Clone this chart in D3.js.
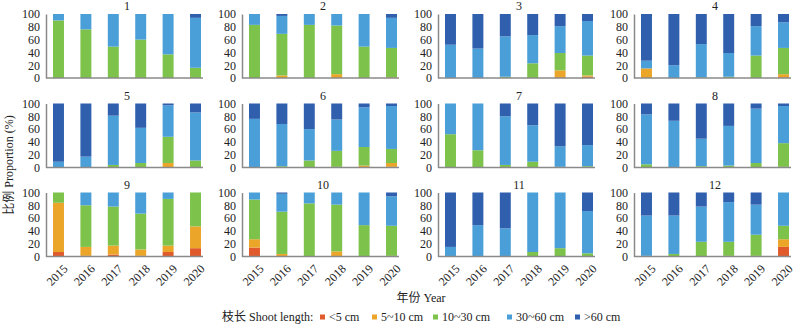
<!DOCTYPE html>
<html>
<head>
<meta charset="utf-8">
<script src="https://cdn.jsdelivr.net/npm/d3@7"></script>
<style>
  body { margin: 0; background: #fff; }
  svg text { font-family: "Liberation Serif", "Noto Sans CJK SC", serif; fill: #222; }
</style>
</head>
<body>
<svg id="chart" width="800" height="326"></svg>
<script>
var years = ['2015', '2016', '2017', '2018', '2019', '2020'];
var classes = ['<5 cm', '5~10 cm', '10~30 cm', '30~60 cm', '>60 cm'];
var colors = ['#e05a2b', '#eba62a', '#7dc24a', '#4a9fd8', '#2f5fad'];
var yTicks = [0, 20, 40, 60, 80, 100];

// one row per year: [<5, 5~10, 10~30, 30~60, >60] in %
var site1  = [[0,0,90,10,0],[0,0,76,24,0],[0,0,49,51,0],[0,0,60,40,0],[0,0,37,63,0],[0,0,16,78,6]];
var site2  = [[0,0,83,17,0],[0,4,65,28,3],[0,0,83,17,0],[0,6,76,18,0],[0,0,49,51,0],[0,1,46,47,6]];
var site3  = [[0,0,0,52,48],[0,0,0,46,54],[0,0,2,63,35],[0,0,23,44,33],[1,11,27,42,19],[2,2,31,54,11]];
var site4  = [[0,15,0,12,73],[0,0,0,20,80],[0,0,1,52,47],[0,0,2,37,61],[0,0,35,46,19],[1,5,41,40,13]];
var site5  = [[0,0,0,9,91],[0,0,0,17,83],[0,0,4,77,19],[0,0,7,55,38],[0,7,41,49,3],[0,0,11,75,14]];
var site6  = [[0,0,0,76,24],[0,0,2,66,32],[0,0,11,49,40],[0,1,25,49,25],[0,3,29,62,6],[1,6,22,67,4]];
var site7  = [[0,0,52,48,0],[0,0,27,73,0],[0,0,4,76,20],[0,0,9,57,34],[0,0,1,32,67],[0,0,2,33,65]];
var site8  = [[0,0,5,78,17],[0,0,0,73,27],[0,0,2,43,55],[0,0,3,62,35],[0,0,7,85,8],[0,1,37,58,4]];
var site9  = [[7,77,16,0,0],[1,14,65,20,0],[3,14,61,22,0],[1,10,56,33,0],[7,10,73,10,0],[13,34,53,0,0]];
var site10 = [[14,13,62,11,0],[0,4,66,28,2],[0,0,83,17,0],[0,8,73,19,0],[0,0,49,51,0],[0,1,47,46,6]];
var site11 = [[0,0,0,15,85],[0,0,0,49,51],[0,0,0,44,56],[0,0,7,93,0],[0,0,13,87,0],[0,0,5,66,29]];
var site12 = [[0,0,1,63,36],[0,0,4,60,36],[0,0,23,55,22],[1,0,22,62,15],[1,0,33,47,19],[15,12,21,52,0]];

var sites = [site1, site2, site3, site4, site5, site6, site7, site8, site9, site10, site11, site12];

var svg = d3.select('#chart');

var colX = [46, 242, 438, 634],
    rowTop = [14, 103.5, 192.5],
    plotW = 157,
    plotH = 64;

var x = d3.scaleBand().domain(years).range([7, 155]).paddingInner(0.6).paddingOuter(0);
var y = d3.scaleLinear().domain([0, 100]).range([plotH, 0]);
var stack = d3.stack().keys(d3.range(classes.length));

sites.forEach(function (site, i) {
    var col = i % 4, row = Math.floor(i / 4);
    var g = svg.append('g')
        .attr('transform', 'translate(' + colX[col] + ',' + rowTop[row] + ')');

    var series = stack(site);
    g.selectAll('.layer')
        .data(series)
        .enter()
        .append('g')
        .attr('class', 'layer')
        .style('fill', function (d, k) { return colors[k]; })
        .selectAll('rect')
        .data(function (d) { return d; })
        .enter()
        .append('rect')
        .attr('x', function (d, j) { return x(years[j]); })
        .attr('width', x.bandwidth())
        .attr('y', function (d) { return y(d[1]); })
        .attr('height', function (d) { return y(d[0]) - y(d[1]); });

    // y axis
    var yAxis = g.append('g').call(d3.axisLeft(y).tickValues(yTicks).tickSize(0).tickPadding(6));
    yAxis.select('.domain').attr('stroke', '#8a8a8a').attr('stroke-width', 1.5);
    yAxis.selectAll('text').style('font-size', '12px');

    // x axis
    g.append('line')
        .attr('x1', 0).attr('x2', plotW)
        .attr('y1', plotH).attr('y2', plotH)
        .attr('stroke', '#8a8a8a').attr('stroke-width', 1.5);

    if (row === 2) {
        g.selectAll('.yr')
            .data(years)
            .enter()
            .append('text')
            .attr('class', 'yr')
            .attr('text-anchor', 'end')
            .style('font-size', '12px')
            .attr('transform', function (d) {
                return 'translate(' + (x(d) + x.bandwidth() / 2 + 4) + ',' + (plotH + 7) + ') rotate(-45)';
            })
            .attr('dy', '0.7em')
            .text(function (d) { return d; });
    }

    g.append('text')
        .attr('x', 7 + 74)
        .attr('y', -4)
        .attr('text-anchor', 'middle')
        .style('font-size', '12px')
        .text(i + 1);
});

// axis titles
svg.append('text')
    .attr('transform', 'translate(13,165) rotate(-90)')
    .attr('text-anchor', 'middle')
    .style('font-size', '12px')
    .text('比例 Proportion (%)');

svg.append('text')
    .attr('x', 421)
    .attr('y', 302)
    .attr('text-anchor', 'middle')
    .style('font-size', '12px')
    .text('年份 Year');

// legend
var legendX = [320, 372, 433, 507, 575];
var legend = svg.append('g').attr('transform', 'translate(0,317)');
legend.append('text')
    .attr('x', 222).attr('y', 4)
    .style('font-size', '12px')
    .text('枝长 Shoot length:');
var items = legend.selectAll('.item')
    .data(classes)
    .enter()
    .append('g')
    .attr('class', 'item')
    .attr('transform', function (d, k) { return 'translate(' + legendX[k] + ',0)'; });
items.append('rect')
    .attr('x', 0).attr('y', -2.5)
    .attr('width', 5).attr('height', 5)
    .style('fill', function (d, k) { return colors[k]; });
items.append('text')
    .attr('x', 9).attr('y', 4)
    .style('font-size', '12px')
    .text(function (d) { return d; });
</script>
</body>
</html>
